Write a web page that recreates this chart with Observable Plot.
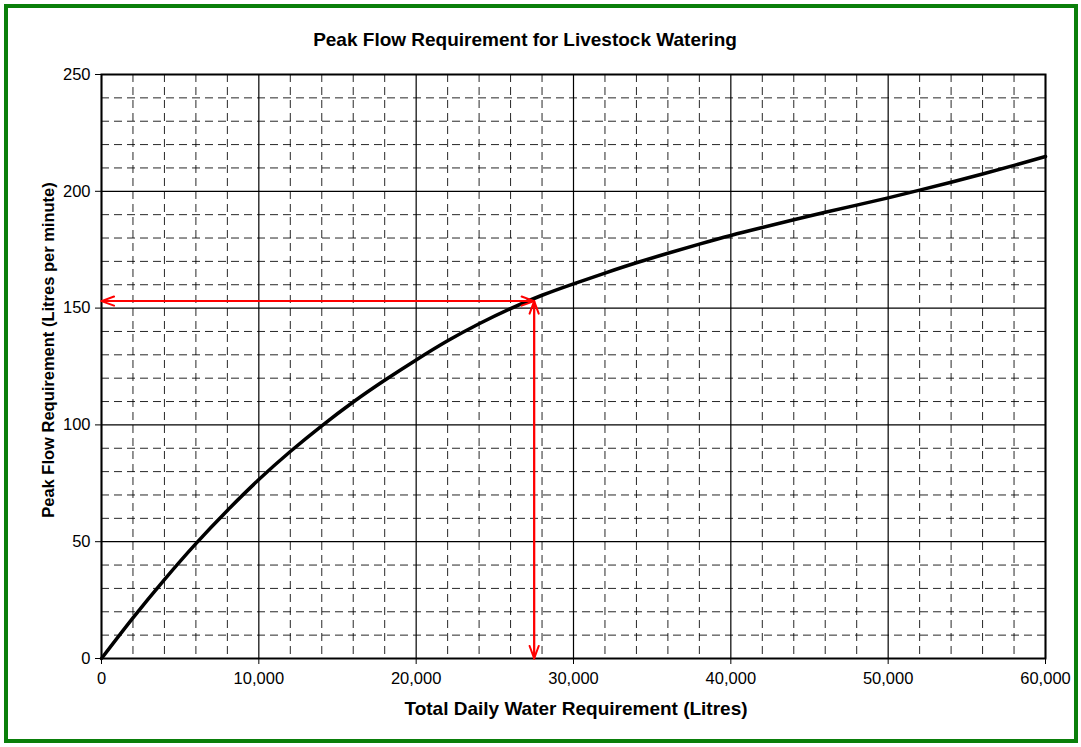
<!DOCTYPE html>
<html>
<head>
<meta charset="utf-8">
<script src="https://cdn.jsdelivr.net/npm/d3@7"></script>
<script src="https://cdn.jsdelivr.net/npm/@observablehq/plot@0.6"></script>
<style>
  html, body { margin: 0; padding: 0; background: #fff; }
  #wrap { position: relative; width: 1081px; height: 747px; overflow: hidden; font-family: "Liberation Sans", Arial, sans-serif; }
  #border { position: absolute; left: 4px; top: 4px; width: 1074px; height: 739px; box-sizing: border-box; border: 4px solid #0a7f0a; pointer-events: none; }
  .t { position: absolute; font-weight: bold; color: #000; white-space: nowrap; line-height: 1; }
  #title { left: 525px; top: 30px; font-size: 19px; transform: translateX(-50%); }
  #xtitle { left: 576px; top: 699px; font-size: 19px; transform: translateX(-50%); }
  #ytitle { left: 48px; top: 350px; font-size: 16.5px; transform: translate(-50%, -50%) rotate(-90deg); }
  #chart { position: absolute; left: 0; top: 0; }
</style>
</head>
<body>
<div id="wrap">
  <div id="chart"></div>
  <div id="border"></div>
  <div class="t" id="title">Peak Flow Requirement for Livestock Watering</div>
  <div class="t" id="xtitle">Total Daily Water Requirement (Litres)</div>
  <div class="t" id="ytitle">Peak Flow Requirement (Litres per minute)</div>
</div>
<script>
// Curve (total daily litres -> peak litres per minute)
const dailyLitres = [0, 2000, 4000, 6000, 8000, 10000, 12000, 14000, 16000, 18000, 20000,
  22000, 24000, 26000, 28000, 30000, 32000, 34000, 36000, 38000, 40000,
  42000, 44000, 46000, 48000, 50000, 52000, 54000, 56000, 58000, 60000];
const peakFlow = [0, 17.4, 33.8, 49.2, 63.4, 76.6, 88.6, 99.6, 109.8, 119.1, 127.8,
  136.0, 143.3, 149.8, 155.5, 160.4, 165.0, 169.4, 173.5, 177.4, 181.1,
  184.5, 187.8, 191.0, 194.1, 197.2, 200.5, 203.9, 207.4, 211.1, 214.9];

// Example reading marked with red arrows
const exampleDaily = 27500;
const exampleFlow = 153;

// Tick values
const xMajorTicks = [0, 10000, 20000, 30000, 40000, 50000, 60000];
const xMinorTicks = [2000, 4000, 6000, 8000, 12000, 14000, 16000, 18000, 22000, 24000, 26000, 28000,
  32000, 34000, 36000, 38000, 42000, 44000, 46000, 48000, 52000, 54000, 56000, 58000];
const yMajorTicks = [0, 50, 100, 150, 200, 250];
const yMinorTicks = [10, 20, 30, 40, 60, 70, 80, 90, 110, 120, 130, 140, 160, 170, 180, 190, 210, 220, 230, 240];

const curve = dailyLitres.map((d, i) => ({x: d, y: peakFlow[i]}));
const arrows = [
  {x1: exampleDaily, y1: exampleFlow, x2: 0, y2: exampleFlow},
  {x1: 0, y1: exampleFlow, x2: exampleDaily, y2: exampleFlow},
  {x1: exampleDaily, y1: exampleFlow, x2: exampleDaily, y2: 0},
  {x1: exampleDaily, y1: 0, x2: exampleDaily, y2: exampleFlow}
];

const plot = Plot.plot({
  width: 1081,
  height: 747,
  marginLeft: 101,
  marginRight: 36,
  marginTop: 74,
  marginBottom: 89,
  style: {fontFamily: "'Liberation Sans', Arial, sans-serif", fontSize: "16px", color: "#000", background: "transparent"},
  x: {domain: [0, 60000]},
  y: {domain: [0, 250]},
  marks: [
    Plot.gridX(xMinorTicks, {stroke: "#000", strokeOpacity: 0.85, strokeWidth: 1, strokeDasharray: "8,5"}),
    Plot.gridY(yMinorTicks, {stroke: "#000", strokeOpacity: 0.85, strokeWidth: 1, strokeDasharray: "8,5"}),
    Plot.gridX(xMajorTicks, {stroke: "#000", strokeOpacity: 1, strokeWidth: 1.2}),
    Plot.gridY(yMajorTicks, {stroke: "#000", strokeOpacity: 1, strokeWidth: 1.2}),
    Plot.axisX(xMajorTicks, {tickFormat: d3.format(","), tickSize: 6, tickPadding: 8, label: null, fontSize: 16.5}),
    Plot.axisY(yMajorTicks, {tickFormat: d3.format("d"), tickSize: 6, tickPadding: 5, label: null, fontSize: 16.5}),
    Plot.frame({stroke: "#000", strokeWidth: 2}),
    Plot.line(curve, {x: "x", y: "y", curve: "natural", stroke: "#000", strokeWidth: 3.5}),
    Plot.arrow(arrows, {x1: "x1", y1: "y1", x2: "x2", y2: "y2", stroke: "#ff0000", strokeWidth: 2, headLength: 10, headAngle: 40})
  ]
});
document.getElementById("chart").appendChild(plot);
</script>
</body>
</html>
